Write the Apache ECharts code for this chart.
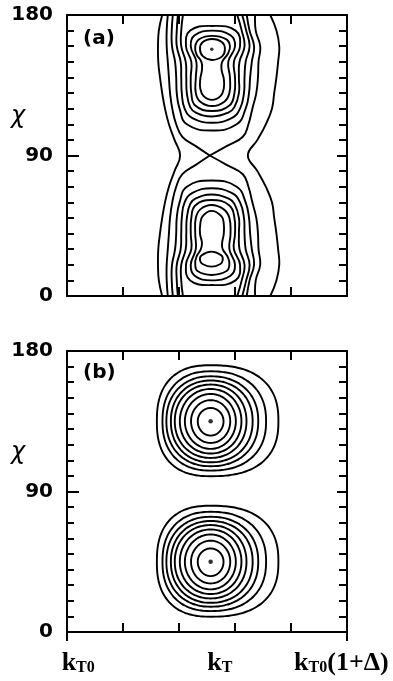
<!DOCTYPE html>
<html>
<head>
<meta charset="utf-8">
<script src="https://cdn.jsdelivr.net/npm/echarts@6/dist/echarts.min.js"></script>
<style>
  html, body { margin: 0; padding: 0; background: #fff; }
  #chart { width: 393px; height: 681px; }
</style>
</head>
<body>
<div id="chart"></div>
<script>
// ---- axes ----
const kMin = 0, kMax = 5, kStep = 1;             // k axis from kT0 to kT0(1+Δ), five tick intervals
const chiMin = 0, chiMax = 180, chiStep = 90;    // χ axis, labelled every 90°
const chiMinorSplit = 9;                         // minor ticks every 10°
const kLabelValues = [0.2, 2.73, 4.9];
const kLabelTexts = ['{k|k}{s|T0}', '{k|k}{s|T}', '{k|k}{s|T0}{k|(1+Δ)}'];

// ---- panel (a): contour rows [χ, k on the left branch, k on the right branch] ----
// upper lobe, innermost first
const aUp1 = [[164.6, 2.59, 2.59], [162.5, 2.42, 2.77], [158, 2.375, 2.82], [153.5, 2.43, 2.77], [151.2, 2.59, 2.59]];
const aUp2 = [[166.6, 2.59, 2.59], [164.5, 2.36, 2.84], [160, 2.29, 2.91], [155, 2.31, 2.87], [150, 2.40, 2.77],
              [145, 2.41, 2.76], [139, 2.38, 2.80], [133, 2.38, 2.80], [128, 2.44, 2.74], [125.6, 2.59, 2.59]];
const aUp3 = [[170, 2.59, 2.59], [167, 2.28, 2.92], [160, 2.21, 3.00], [150, 2.31, 2.88], [140, 2.30, 2.91],
              [130, 2.30, 2.90], [124.5, 2.38, 2.81], [121.7, 2.59, 2.59]];
const aUp4 = [[173, 2.59, 2.59], [170, 2.20, 3.01], [160, 2.125, 3.09], [150, 2.22, 2.98], [140, 2.21, 3.00],
              [130, 2.22, 2.99], [122, 2.29, 2.90], [118.5, 2.59, 2.59]];
const aUp5 = [[180, 2.07, 3.04], [170, 2.04, 3.12], [160, 2.04, 3.17], [150, 2.12, 3.08], [140, 2.13, 3.07],
              [130, 2.14, 3.07], [121, 2.20, 2.99], [117.5, 2.30, 2.88], [115, 2.59, 2.59]];
const aUp6 = [[180, 1.98, 3.13], [170, 1.96, 3.20], [160, 1.96, 3.26], [150, 2.03, 3.19], [140, 2.04, 3.17],
              [130, 2.05, 3.16], [120, 2.10, 3.09], [114, 2.24, 2.94], [111, 2.59, 2.59]];
const aUp7 = [[180, 1.89, 3.21], [170, 1.87, 3.26], [160, 1.875, 3.34], [150, 1.93, 3.30], [140, 1.95, 3.27],
              [130, 1.96, 3.25], [120, 2.01, 3.19], [110, 2.14, 3.03], [106, 2.59, 2.59]];
// level through the saddle at χ = 90
const aUp8 = [[180, 1.80, 3.36], [170, 1.78, 3.37], [160, 1.78, 3.45], [150, 1.80, 3.42], [140, 1.82, 3.41],
              [130, 1.84, 3.38], [120, 1.88, 3.31], [110, 1.95, 3.24], [102, 2.06, 3.14], [96, 2.30, 2.85], [90, 2.55, 2.55]];
// lower lobe, innermost first
const aLo1 = [[28.4, 2.58, 2.58], [26, 2.40, 2.76], [23, 2.375, 2.78], [20.5, 2.42, 2.74], [18.8, 2.58, 2.58]];
const aLo2 = [[54.5, 2.58, 2.58], [51, 2.42, 2.76], [46, 2.38, 2.80], [40, 2.375, 2.80], [34, 2.41, 2.77],
              [30, 2.39, 2.78], [25, 2.31, 2.87], [20.5, 2.29, 2.90], [16, 2.33, 2.85], [13.5, 2.58, 2.58]];
const aLo3 = [[58.3, 2.58, 2.58], [55.5, 2.38, 2.80], [50, 2.30, 2.90], [40, 2.29, 2.92], [30, 2.30, 2.90],
              [20, 2.21, 3.00], [13, 2.28, 2.92], [10, 2.58, 2.58]];
const aLo4 = [[61.5, 2.58, 2.58], [58, 2.29, 2.90], [50, 2.22, 2.99], [40, 2.21, 3.00], [30, 2.22, 2.98],
              [20, 2.125, 3.09], [10, 2.20, 3.01], [7, 2.58, 2.58]];
const aLo5 = [[65, 2.58, 2.58], [62.5, 2.30, 2.88], [59, 2.20, 2.99], [50, 2.14, 3.07], [40, 2.13, 3.07],
              [30, 2.12, 3.08], [20, 2.04, 3.17], [10, 2.04, 3.12], [0, 2.07, 3.04]];
const aLo6 = [[69, 2.58, 2.58], [66, 2.24, 2.94], [60, 2.10, 3.09], [50, 2.05, 3.16], [40, 2.04, 3.17],
              [30, 2.03, 3.19], [20, 1.96, 3.26], [10, 1.96, 3.20], [0, 1.98, 3.13]];
const aLo7 = [[74, 2.58, 2.58], [70, 2.14, 3.03], [60, 2.01, 3.19], [50, 1.96, 3.25], [40, 1.95, 3.27],
              [30, 1.93, 3.30], [20, 1.875, 3.34], [10, 1.87, 3.26], [0, 1.89, 3.21]];
const aLo8 = [[90, 2.55, 2.55], [84, 2.30, 2.85], [78, 2.06, 3.14], [70, 1.95, 3.24], [60, 1.88, 3.31], [50, 1.84, 3.38],
              [40, 1.82, 3.41], [30, 1.80, 3.42], [20, 1.78, 3.45], [10, 1.78, 3.37], [0, 1.80, 3.36]];
// outermost level: two open lines running the full height
const aEdge = [[180, 1.70, 3.63], [170, 1.64, 3.74], [160, 1.625, 3.79], [150, 1.63, 3.77], [140, 1.66, 3.74],
               [130, 1.70, 3.70], [120, 1.75, 3.66], [110, 1.82, 3.55], [100, 1.92, 3.40], [90, 2.02, 3.23],
               [80, 1.92, 3.40], [70, 1.82, 3.55], [60, 1.75, 3.66], [50, 1.70, 3.70], [40, 1.66, 3.74],
               [30, 1.63, 3.77], [20, 1.625, 3.79], [10, 1.64, 3.74], [0, 1.70, 3.63]];
const aPeak = [[2.585, 158]];

// ---- panel (b): nested rings about each peak, half extents innermost first ----
const bPeakK = 2.565;
const bPeakChi = [135, 45];
const ringLeft   = [0.23, 0.35, 0.46, 0.55, 0.64, 0.71, 0.79, 0.86, 0.96];
const ringRight  = [0.23, 0.35, 0.45, 0.55, 0.64, 0.75, 0.85, 0.99, 1.21];
const ringTop    = [8.5, 13.5, 17.5, 20.7, 23.5, 26.1, 28.8, 32.0, 35.9];
const ringBottom = [9.2, 13.9, 17.7, 20.7, 23.5, 26.3, 28.8, 31.6, 35.2];
const ringSquare = [2.0, 2.0, 2.0, 2.05, 2.1, 2.15, 2.2, 2.3, 2.45];

// ---- layout ----
const plotLeft = 67, plotRight = 46, plotWidth = 280, plotHeight = 281;
const topA = 15, topB = 351;
const frameOverhang = 9;   // the lower frame's side lines run a little past its bottom edge
const ink = '#000';
const lineW = 1.9;

const chart = echarts.init(document.getElementById('chart'), null, { renderer: 'canvas' });

function xAxisFor(gridIndex, position, withLabels) {
  return {
    type: 'value', gridIndex, position, min: kMin, max: kMax, interval: kStep,
    axisLine: { show: true, onZero: false, lineStyle: { color: ink, width: 2 } },
    axisTick: { show: true, inside: true, length: 9, lineStyle: { color: ink, width: 2 } },
    splitLine: { show: false },
    axisLabel: withLabels ? {
      show: true, customValues: kLabelValues, margin: 16,
      formatter: (v) => {
        let best = 0;
        kLabelValues.forEach((lv, i) => { if (Math.abs(lv - v) < Math.abs(kLabelValues[best] - v)) best = i; });
        return kLabelTexts[best];
      },
      rich: {
        k: { fontFamily: 'Liberation Serif', fontWeight: 'bold', fontSize: 26, color: ink, lineHeight: 28, verticalAlign: 'bottom' },
        s: { fontFamily: 'Liberation Serif', fontWeight: 'bold', fontSize: 16, color: ink, lineHeight: 18, verticalAlign: 'bottom' }
      }
    } : { show: false }
  };
}

function yAxisFor(gridIndex, position, withLabels) {
  return {
    type: 'value', gridIndex, position, min: chiMin, max: chiMax, interval: chiStep,
    axisLine: { show: true, onZero: false, lineStyle: { color: ink, width: 2 } },
    axisTick: { show: true, inside: true, length: withLabels ? 12 : 10, lineStyle: { color: ink, width: 2 } },
    minorTick: { show: true, splitNumber: chiMinorSplit, length: withLabels ? 7 : 8, lineStyle: { color: ink, width: 2 } },
    splitLine: { show: false },
    minorSplitLine: { show: false },
    axisLabel: withLabels ? { show: true, margin: 14, fontFamily: 'DejaVu Sans', fontWeight: 'bold', fontSize: 20, color: ink } : { show: false }
  };
}

// Turn contour rows into drawable paths.
// 'joined': one continuous line through both branches (closed when both ends meet at a point)
// 'split' : left and right branches drawn as separate lines
function contourPaths(rows, mode) {
  if (mode === 'split') {
    return [
      { closed: false, pts: rows.map(r => [r[1], r[0]]) },
      { closed: false, pts: rows.map(r => [r[2], r[0]]) }
    ];
  }
  const isApex = (r) => r[1] === r[2];
  const apexStart = isApex(rows[0]), apexEnd = isApex(rows[rows.length - 1]);
  const left = rows.map(r => [r[1], r[0]]);
  const right = rows.filter(r => !isApex(r)).map(r => [r[2], r[0]]);
  if (apexStart && !apexEnd) {
    // open at the far end: run up the left branch, over the point, down the right one
    return [{ closed: false, pts: left.slice().reverse().concat(right) }];
  }
  return [{ closed: apexStart && apexEnd, pts: left.concat(right.reverse()) }];
}

function contourSeries(gridIndex, rows, mode) {
  return {
    type: 'custom', coordinateSystem: 'cartesian2d',
    xAxisIndex: gridIndex * 2, yAxisIndex: gridIndex * 2,
    clip: true, silent: true,
    data: rows, encode: { x: [1, 2], y: 0 },
    renderItem: (params, api) => {
      if (params.dataIndex !== 0) return null;
      return {
        type: 'group',
        children: contourPaths(rows, mode).map(p => ({
          type: p.closed ? 'polygon' : 'polyline',
          shape: { points: p.pts.map(pt => api.coord(pt)), smooth: 0.45 },
          style: { fill: 'none', stroke: ink, lineWidth: lineW }
        }))
      };
    }
  };
}

function ringSeries(chiCentre) {
  const table = ringLeft.map((l, i) => [l, ringRight[i], ringTop[i], ringBottom[i], ringSquare[i]]);
  return {
    type: 'custom', coordinateSystem: 'cartesian2d',
    xAxisIndex: 2, yAxisIndex: 2, clip: true, silent: true,
    data: table,
    renderItem: (params, api) => {
      const l = api.value(0), r = api.value(1), t = api.value(2), b = api.value(3), n = api.value(4);
      const e = 2 / n, pts = [];
      for (let i = 0; i < 120; i++) {
        const th = i / 120 * Math.PI * 2, c = Math.cos(th), s = Math.sin(th);
        const dx = (c >= 0 ? r : l) * Math.sign(c) * Math.pow(Math.abs(c), e);
        const dy = (s >= 0 ? t : b) * Math.sign(s) * Math.pow(Math.abs(s), e);
        pts.push(api.coord([bPeakK + dx, chiCentre + dy]));
      }
      return { type: 'polygon', shape: { points: pts, smooth: 0.3 }, style: { fill: 'none', stroke: ink, lineWidth: lineW } };
    }
  };
}

const joinedA = [aUp1, aUp2, aUp3, aUp4, aUp5, aUp6, aUp7, aLo1, aLo2, aLo3, aLo4, aLo5, aLo6, aLo7];
const series = [];
joinedA.forEach(rows => series.push(contourSeries(0, rows, 'joined')));
series.push(contourSeries(0, aUp8, 'split'));
series.push(contourSeries(0, aLo8, 'split'));
series.push(contourSeries(0, aEdge, 'split'));
series.push({ type: 'scatter', xAxisIndex: 0, yAxisIndex: 0, data: aPeak, symbolSize: 3.5, itemStyle: { color: ink }, silent: true });
bPeakChi.forEach(c => series.push(ringSeries(c)));
series.push({ type: 'scatter', xAxisIndex: 2, yAxisIndex: 2, data: bPeakChi.map(c => [bPeakK, c]), symbolSize: 4.5, itemStyle: { color: ink }, silent: true });

const bottomB = topB + plotHeight;
const option = {
  animation: false,
  backgroundColor: '#fff',
  grid: [
    { left: plotLeft, right: plotRight, top: topA, height: plotHeight, containLabel: false },
    { left: plotLeft, right: plotRight, top: topB, height: plotHeight, containLabel: false }
  ],
  xAxis: [
    xAxisFor(0, 'bottom', false), xAxisFor(0, 'top', false),
    xAxisFor(1, 'bottom', true), xAxisFor(1, 'top', false)
  ],
  yAxis: [
    yAxisFor(0, 'left', true), yAxisFor(0, 'right', false),
    yAxisFor(1, 'left', true), yAxisFor(1, 'right', false)
  ],
  graphic: [
    { type: 'text', left: 83, top: topA + 14, style: { text: '(a)', font: 'bold 20px "DejaVu Sans"', fill: ink } },
    { type: 'text', left: 83, top: topB + 12, style: { text: '(b)', font: 'bold 20px "DejaVu Sans"', fill: ink } },
    { type: 'text', x: 18, y: topA + 102, style: { text: 'χ', font: 'italic 24px "DejaVu Sans"', fill: ink, align: 'center', verticalAlign: 'middle' } },
    { type: 'text', x: 18, y: topB + 102, style: { text: 'χ', font: 'italic 24px "DejaVu Sans"', fill: ink, align: 'center', verticalAlign: 'middle' } },
    { type: 'line', shape: { x1: plotLeft, y1: bottomB, x2: plotLeft, y2: bottomB + frameOverhang }, style: { stroke: ink, lineWidth: 2 } },
    { type: 'line', shape: { x1: plotLeft + plotWidth, y1: bottomB, x2: plotLeft + plotWidth, y2: bottomB + frameOverhang }, style: { stroke: ink, lineWidth: 2 } }
  ],
  series
};
chart.setOption(option);
</script>
</body>
</html>
